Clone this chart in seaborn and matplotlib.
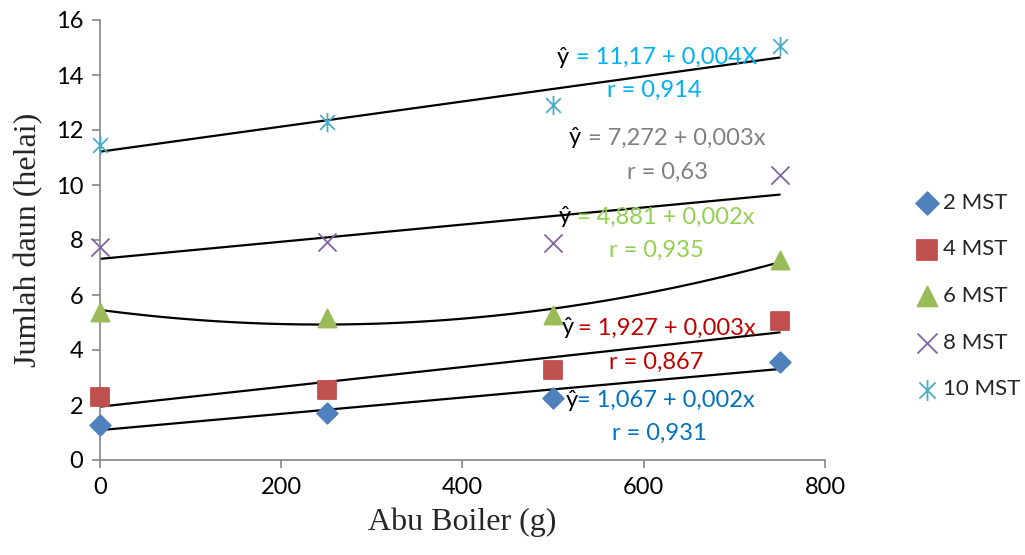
import numpy as np
import pandas as pd
import matplotlib
matplotlib.use("Agg")
import matplotlib.pyplot as plt
from matplotlib.path import Path
import seaborn as sns

# ---- data ----
abu = [0, 250, 500, 750]
series_names = ["2 MST", "4 MST", "6 MST", "8 MST", "10 MST"]
mst2 = [1.27, 1.71, 2.25, 3.56]
mst4 = [2.29, 2.55, 3.27, 5.05]
mst6 = [5.38, 5.16, 5.27, 7.27]
mst8 = [7.75, 7.93, 7.89, 10.36]
mst10 = [11.45, 12.29, 12.90, 15.05]
values = [mst2, mst4, mst6, mst8, mst10]
trend_order = [1, 1, 2, 1, 1]

colors = ["#4F81BD", "#C0504D", "#9BBB59", "#8064A2", "#4BACC6"]
text_colors = ["#0070C0", "#C00000", "#92D050", "#808080", "#00B0F0"]

eq_texts = ["= 1,067 + 0,002x", "= 1,927 + 0,003x", "= 4,881 + 0,002x",
            "= 7,272 + 0,003x", "= 11,17 + 0,004X"]
r_texts = ["r = 0,931", "r = 0,867", "r = 0,935", "r = 0,63", "r = 0,914"]
# annotation anchor positions (data coords)
hat_pos = [(514, 2.18), (509, 4.80), (506, 8.84), (517, 11.71), (504, 14.65)]
eq_pos = [(526, 2.18), (527, 4.80), (526, 8.84), (538, 11.71), (525, 14.65)]
r_pos = [(617, 0.98), (614, 3.56), (614, 7.64), (626, 10.47), (612, 13.45)]

sns.set_theme(style="white")
plt.rcParams["font.family"] = ["Lato", "DejaVu Sans"]

fig = plt.figure(figsize=(10.25, 5.55), dpi=100)
ax = fig.add_axes([100 / 1025, 95 / 555, 725 / 1025, 440 / 555])

star = Path([(-1, -1), (1, 1), (-1, 1), (1, -1), (0, -1.3), (0, 1.3)],
            [Path.MOVETO, Path.LINETO, Path.MOVETO, Path.LINETO, Path.MOVETO, Path.LINETO])
markers = ["D", "s", "^", "x", star]
sizes = [110, 170, 170, 170, 190]

for name, vals, m, c, s, order in zip(series_names, values, markers, colors, sizes, trend_order):
    df = pd.DataFrame({"x": abu, "y": vals})
    sns.regplot(data=df, x="x", y="y", order=order, ci=None, scatter=False,
                line_kws=dict(color="black", lw=1.6), ax=ax)
    sns.scatterplot(data=df, x="x", y="y", marker=m, s=s, color=c, edgecolor=c,
                    linewidth=1.3, label=name, ax=ax, clip_on=False, zorder=3)

for i in range(5):
    ax.text(*hat_pos[i], "ŷ", color="black", fontsize=17, ha="left", va="center")
    ax.text(*eq_pos[i], eq_texts[i], color=text_colors[i], fontsize=17, ha="left", va="center")
    ax.text(*r_pos[i], r_texts[i], color=text_colors[i], fontsize=17, ha="center", va="center")

ax.set_xlim(0, 800)
ax.set_ylim(0, 16)
ax.set_xticks(range(0, 801, 200))
ax.set_yticks(range(0, 17, 2))
for sp in ["top", "right"]:
    ax.spines[sp].set_visible(False)
for sp in ["left", "bottom"]:
    ax.spines[sp].set_color("#868686")
    ax.spines[sp].set_linewidth(1.2)
ax.tick_params(axis="both", direction="out", length=6, width=1.2, color="#868686",
               labelsize=17, labelcolor="black", left=True, bottom=True, pad=6)
ax.set_xlabel("Abu Boiler (g)", family="Liberation Serif", fontsize=23, labelpad=7)
ax.set_ylabel("Jumlah daun (helai)", family="Liberation Serif", fontsize=23, labelpad=9)

leg = ax.legend(loc="center left", bbox_to_anchor=(905 / 1025, 259 / 555),
                bbox_transform=fig.transFigure, frameon=False, fontsize=16,
                labelspacing=1.2, handletextpad=0.1, handlelength=1.2,
                borderaxespad=0, markerscale=1.1)

fig.savefig("out.png", dpi=100)
